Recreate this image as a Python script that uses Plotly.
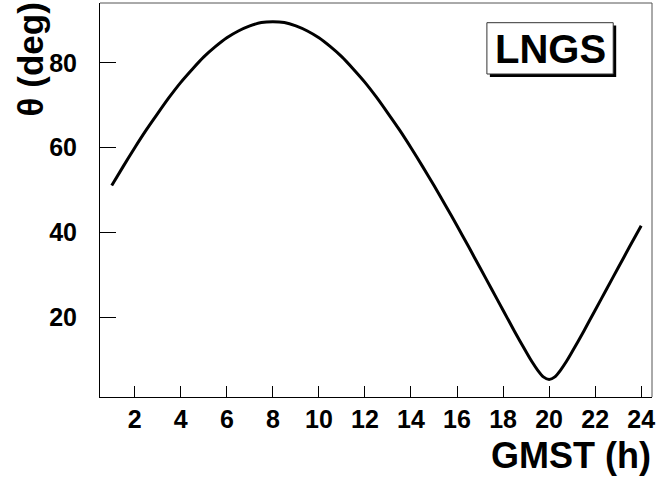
import plotly.graph_objects as go

# GMST (hours) and zenith-like angle theta (degrees)
gmst = [1.0, 1.5, 2.0, 2.5, 3.0, 3.5, 4.0, 4.5, 5.0, 5.5, 6.0, 6.5, 7.0, 7.5,
        8.0, 8.5, 9.0, 9.5, 10.0, 10.5, 11.0, 11.5, 12.0, 12.5, 13.0, 13.5,
        14.0, 14.5, 15.0, 15.5, 16.0, 16.5, 17.0, 17.5, 18.0, 18.5, 19.0,
        19.25, 19.5, 19.75, 20.0, 20.25, 20.5, 20.75, 21.0, 21.5, 22.0, 22.5,
        23.0, 23.5, 24.0]
theta = [51.1, 55.6, 60.0, 64.2, 68.1, 71.9, 75.4, 78.5, 81.4, 83.8, 85.9, 87.5,
         88.7, 89.5, 89.7, 89.5, 88.7, 87.5, 85.9, 83.8, 81.4, 78.5, 75.4, 71.9,
         68.1, 64.2, 60.0, 55.6, 51.1, 46.4, 41.6, 36.7, 31.7, 26.7, 21.7, 16.7,
         11.9, 9.6, 7.6, 6.0, 5.4, 6.0, 7.6, 9.6, 11.9, 16.7, 21.7, 26.7, 31.7,
         36.7, 41.6]

x_ticks = [2, 4, 6, 8, 10, 12, 14, 16, 18, 20, 22, 24]
y_ticks = [20, 40, 60, 80]
x_title = "GMST (h)"
y_title = "θ (deg)"
site_label = "LNGS"

W, H = 658, 477
ML, MR, MT, MB = 100, 3, 3, 80
PW, PH = W - ML - MR, H - MT - MB

def px(xp):
    return (xp - ML) / PW

def py(yp):
    return (H - MB - yp) / PH

FONT = "Liberation Sans, Arial, Helvetica, sans-serif"

fig = go.Figure()
fig.add_trace(go.Scatter(x=gmst, y=theta, mode="lines",
                         line=dict(color="black", width=3, shape="spline", smoothing=0.6),
                         showlegend=False, hoverinfo="skip"))

fig.update_layout(
    width=W, height=H,
    margin=dict(l=ML, r=MR, t=MT, b=MB, pad=0),
    paper_bgcolor="white", plot_bgcolor="white",
    font=dict(family=FONT, color="black"),
    showlegend=False,
)
fig.update_xaxes(range=[0.49, 24.47], tickmode="array", tickvals=x_ticks,
                 ticktext=[str(v) for v in x_ticks], ticks="inside", ticklen=11,
                 tickwidth=1, tickcolor="black", showgrid=False, zeroline=False,
                 showline=True, linecolor="black", linewidth=1,
                 tickfont=dict(family=FONT, size=25, weight="bold"),
                 ticklabeloverflow="allow", ticklabelstandoff=0)
fig.update_yaxes(range=[1.25, 94.1], tickmode="array", tickvals=y_ticks,
                 ticktext=[str(v) for v in y_ticks], ticks="inside", ticklen=16,
                 tickwidth=1, tickcolor="black", showgrid=False, zeroline=False,
                 showline=True, linecolor="black", linewidth=1,
                 tickfont=dict(family=FONT, size=25, weight="bold"),
                 ticklabelstandoff=17)

shapes = []
# top and right frame lines (grey)
shapes.append(dict(type="line", xref="paper", yref="paper", x0=0, x1=1, y0=1, y1=1,
                   line=dict(color="#555555", width=1)))
shapes.append(dict(type="line", xref="paper", yref="paper", x0=1, x1=1, y0=0, y1=1,
                   line=dict(color="#555555", width=1)))
# LNGS box: shadow + box
shapes.append(dict(type="rect", xref="paper", yref="paper",
                   x0=px(492), x1=px(619), y0=py(77), y1=py(25.5),
                   fillcolor="black", line=dict(width=0), layer="above"))
shapes.append(dict(type="rect", xref="paper", yref="paper",
                   x0=px(489), x1=px(616), y0=py(74), y1=py(22.7),
                   fillcolor="white", line=dict(color="#333333", width=1), layer="above"))
fig.update_layout(shapes=shapes)

fig.add_annotation(text=site_label, xref="paper", yref="paper", x=px(553), y=py(49),
                   xanchor="center", yanchor="middle", showarrow=False,
                   font=dict(family=FONT, size=40, weight="bold", color="black"))
fig.add_annotation(text=x_title, xref="paper", yref="paper", x=px(656), y=py(455),
                   xanchor="right", yanchor="middle", showarrow=False,
                   font=dict(family=FONT, size=36, weight="bold", color="black"))
fig.add_annotation(text=y_title, xref="paper", yref="paper", x=px(30), y=py(0),
                   xanchor="center", yanchor="top", showarrow=False, textangle=-90,
                   font=dict(family=FONT, size=35, weight="bold", color="black"))

fig.write_html("out.html", config={"displayModeBar": False},
               post_script="document.body.style.margin='0';document.body.style.overflow='hidden';")
